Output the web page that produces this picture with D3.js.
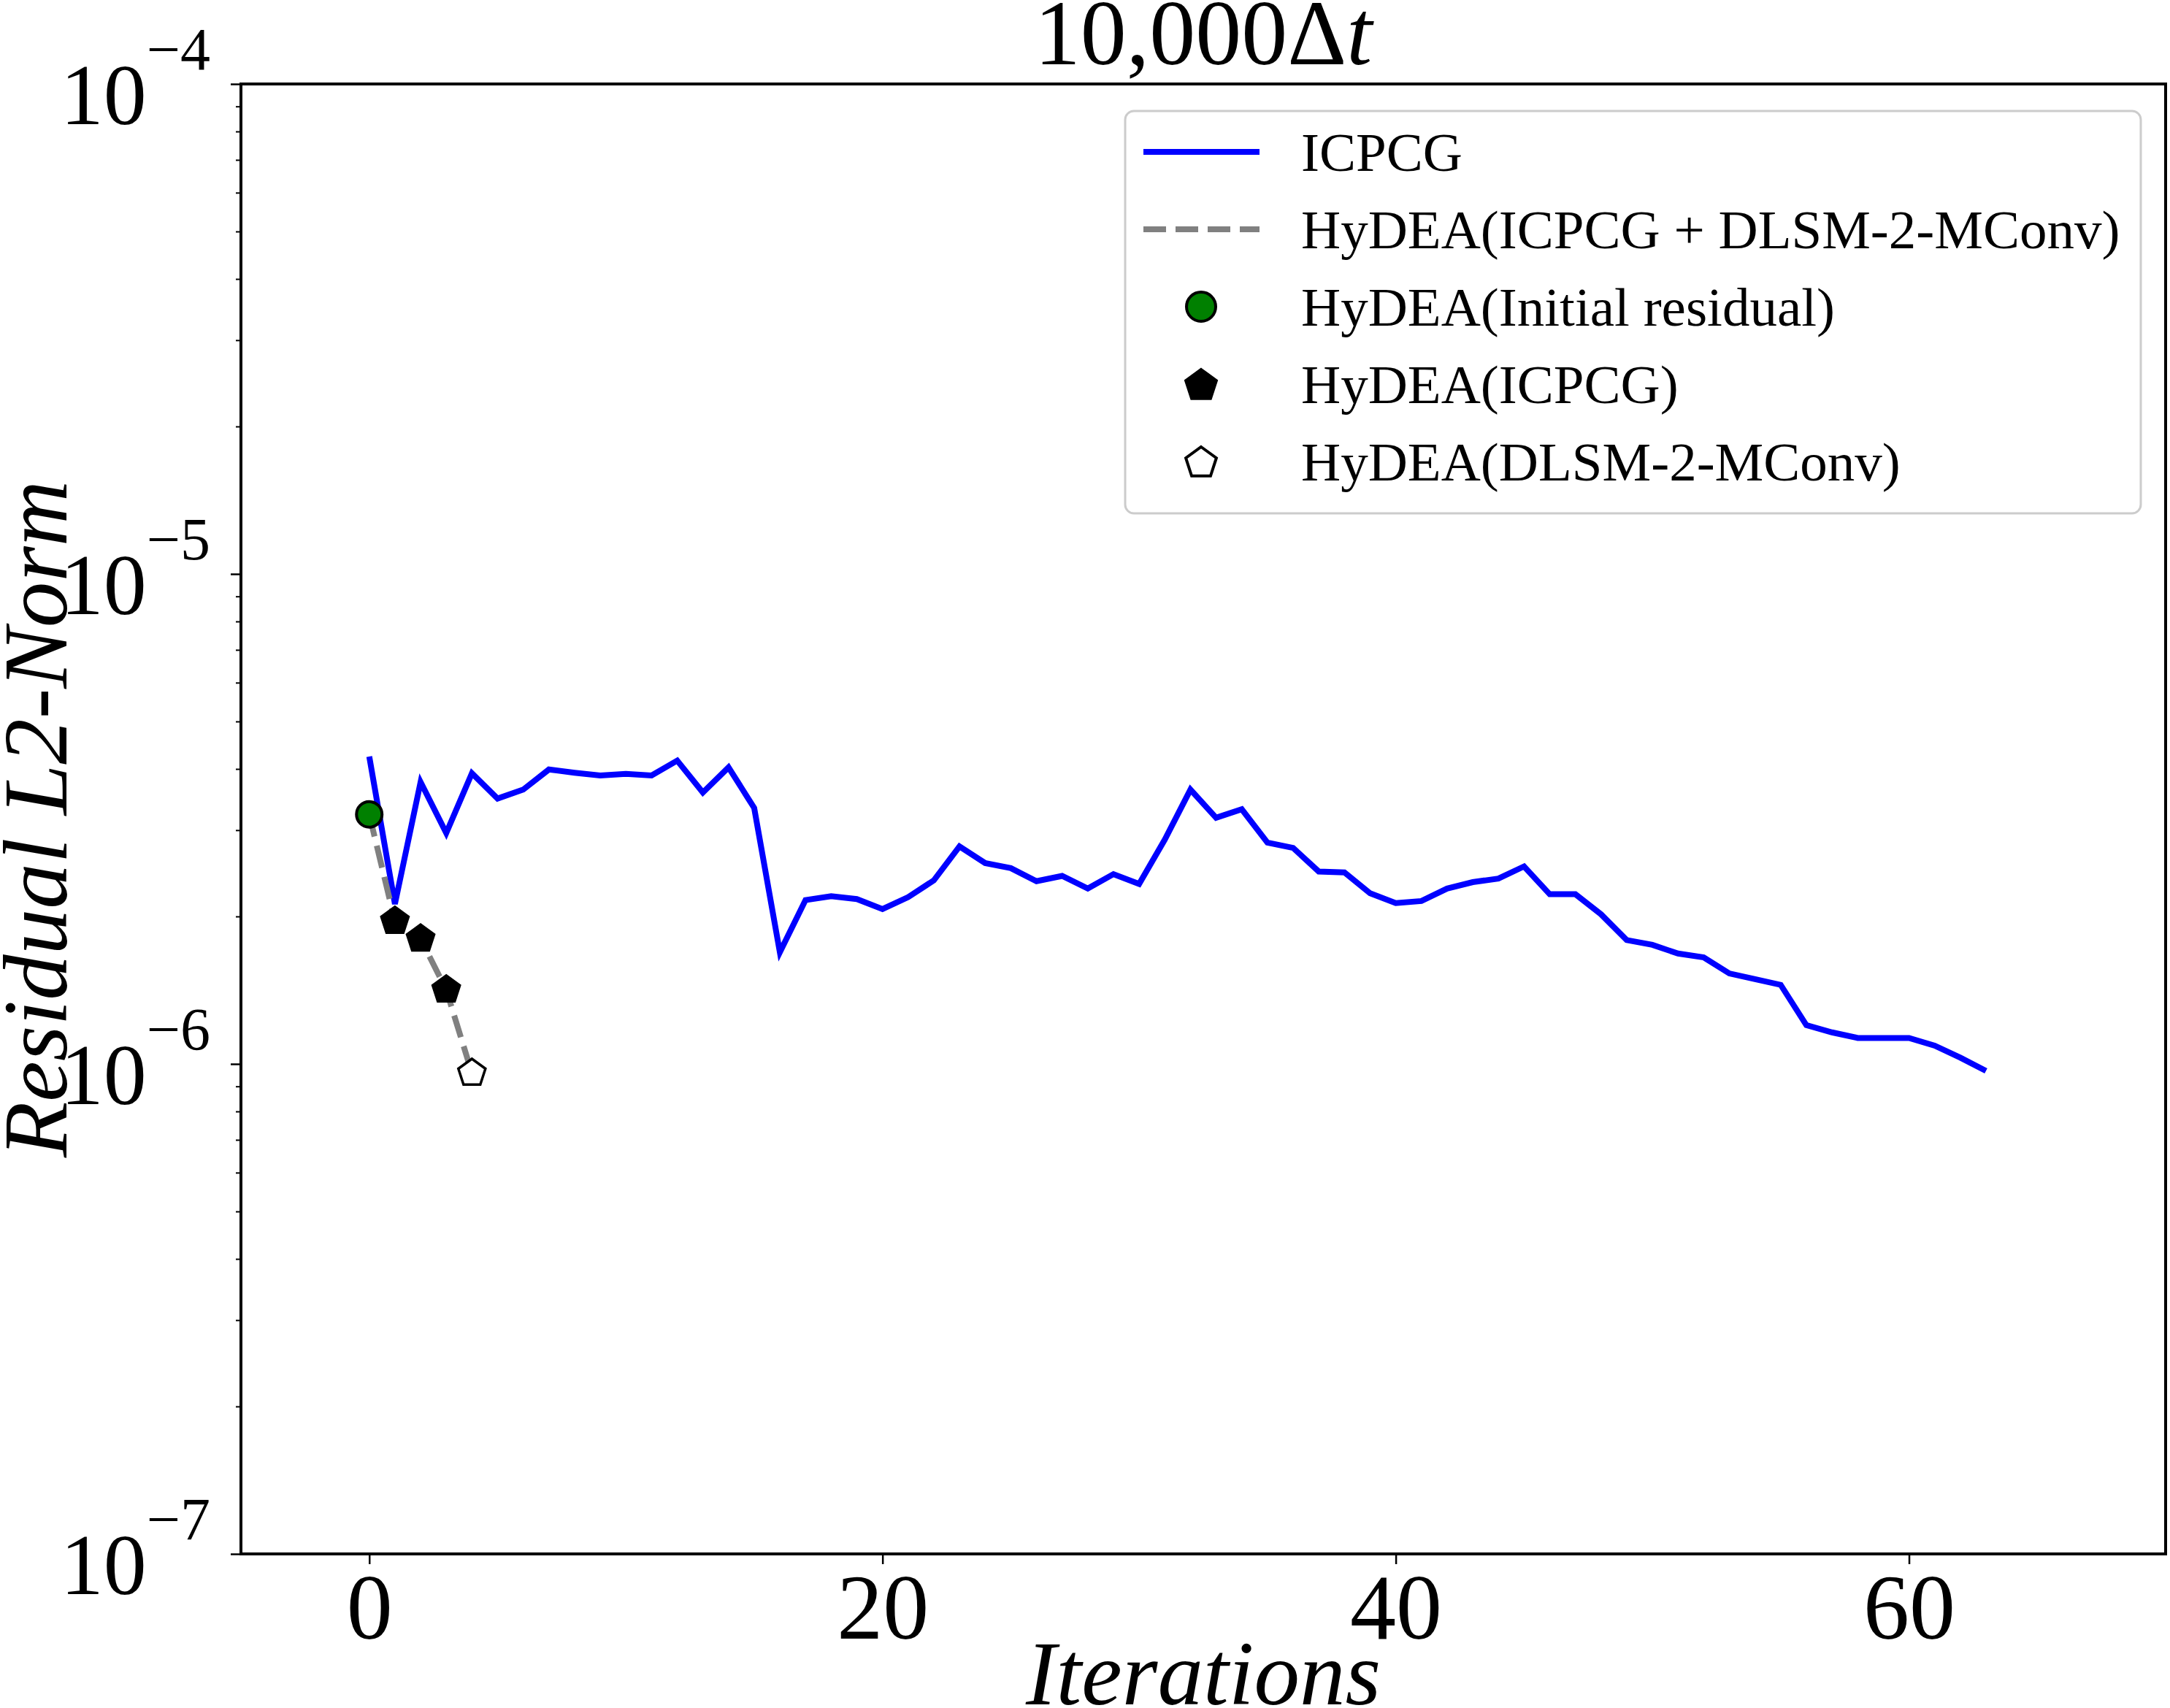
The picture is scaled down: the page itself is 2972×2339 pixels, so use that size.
<!DOCTYPE html>
<html>
<head>
<meta charset="utf-8">
<script src="https://cdn.jsdelivr.net/npm/d3@7"></script>
<style>
  body { margin: 0; background: #fff; }
  svg { display: block; }
  text { font-family: 'Liberation Serif', 'Times New Roman', serif; fill: #000; }
</style>
</head>
<body>
<svg width="2972" height="2339"></svg>
<script>
// residual history
const icpcgResidual = [
  4.24e-6, 2.12e-6, 3.76e-6, 2.96e-6, 3.92e-6, 3.48e-6, 3.63e-6, 3.99e-6, 3.93e-6, 3.88e-6,
  3.91e-6, 3.88e-6, 4.16e-6, 3.58e-6, 4.03e-6, 3.33e-6, 1.69e-6, 2.16e-6, 2.20e-6, 2.17e-6,
  2.07e-6, 2.19e-6, 2.37e-6, 2.78e-6, 2.57e-6, 2.51e-6, 2.36e-6, 2.42e-6, 2.28e-6, 2.44e-6,
  2.33e-6, 2.87e-6, 3.63e-6, 3.18e-6, 3.31e-6, 2.83e-6, 2.76e-6, 2.47e-6, 2.46e-6, 2.23e-6,
  2.13e-6, 2.15e-6, 2.28e-6, 2.35e-6, 2.39e-6, 2.53e-6, 2.22e-6, 2.22e-6, 2.02e-6, 1.79e-6,
  1.75e-6, 1.68e-6, 1.65e-6, 1.53e-6, 1.49e-6, 1.45e-6, 1.20e-6, 1.16e-6, 1.13e-6, 1.13e-6,
  1.13e-6, 1.09e-6, 1.03e-6, 0.968e-6,
];

const hydeaIter = [0, 1, 2, 3, 4];
const hydeaResidual = [3.23e-6, 1.956e-6, 1.80e-6, 1.417e-6, 0.958e-6];
const hydeaKind = ['initial', 'icpcg', 'icpcg', 'icpcg', 'dlsm'];

const xTicks = [0, 20, 40, 60];
const yMajorExp = [-7, -6, -5, -4];

const legendLabels = [
  'ICPCG',
  'HyDEA(ICPCG + DLSM-2-MConv)',
  'HyDEA(Initial residual)',
  'HyDEA(ICPCG)',
  'HyDEA(DLSM-2-MConv)',
];

const svg = d3.select('svg');
const plotLeft = 330, plotRight = 2966, plotTop = 115, plotBottom = 2128;

const x = d3.scaleLinear().domain([-5, 70]).range([plotLeft, plotRight]);
const y = d3.scaleLog().domain([1e-7, 1e-4]).range([plotBottom, plotTop]);

// pentagon marker path, centred on 0,0
const pentagon = (r) => {
  const pts = d3.range(5).map((k) => {
    const a = (-90 + k * 72) * Math.PI / 180;
    return [r * Math.cos(a), r * Math.sin(a)];
  });
  return 'M' + pts.map((p) => p.join(',')).join('L') + 'Z';
};

// x axis
const xAxis = svg.append('g')
  .attr('transform', `translate(0,${plotBottom})`)
  .call(d3.axisBottom(x).tickValues(xTicks).tickSize(14).tickSizeOuter(0).tickPadding(0));
xAxis.select('.domain').remove();
xAxis.selectAll('line').attr('stroke', '#000').attr('stroke-width', 2.5);
xAxis.selectAll('text')
  .attr('y', 116)
  .attr('dy', null)
  .attr('fill', '#000')
  .style('font-size', '126px')
  .style('font-family', "'Liberation Serif', serif");

// y axis: minor ticks
const minorVals = [];
[-7, -6, -5].forEach((e) => {
  [2, 3, 4, 5, 6, 7, 8, 9].forEach((m) => minorVals.push(m * Math.pow(10, e)));
});
const yMinor = svg.append('g')
  .attr('transform', `translate(${plotLeft},0)`)
  .call(d3.axisLeft(y).tickValues(minorVals).tickSize(7).tickSizeOuter(0).tickFormat(''));
yMinor.select('.domain').remove();
yMinor.selectAll('line').attr('stroke', '#000').attr('stroke-width', 2);

// y axis: major ticks with 10^n labels
const yMajor = svg.append('g')
  .attr('transform', `translate(${plotLeft},0)`)
  .call(d3.axisLeft(y).tickValues(yMajorExp.map((e) => Math.pow(10, e)))
    .tickSize(14).tickSizeOuter(0).tickFormat(''));
yMajor.select('.domain').remove();
yMajor.selectAll('line').attr('stroke', '#000').attr('stroke-width', 2.5);
yMajor.selectAll('.tick').each(function (d) {
  const e = Math.round(Math.log10(d));
  const t = d3.select(this).append('text')
    .attr('x', -42)
    .attr('y', 54)
    .attr('text-anchor', 'end')
    .attr('fill', '#000')
    .style('font-family', "'Liberation Serif', serif");
  t.append('tspan').style('font-size', '118px').text('10');
  t.append('tspan').attr('dy', -75).style('font-size', '82px').text('\u2212' + Math.abs(e));
});

// frame
svg.append('rect')
  .attr('x', plotLeft).attr('y', plotTop)
  .attr('width', plotRight - plotLeft).attr('height', plotBottom - plotTop)
  .attr('fill', 'none').attr('stroke', '#000').attr('stroke-width', 4);

// ICPCG line
svg.append('path')
  .datum(icpcgResidual)
  .attr('fill', 'none')
  .attr('stroke', '#0000ff')
  .attr('stroke-width', 8)
  .attr('stroke-linejoin', 'miter')
  .attr('d', d3.line().x((d, i) => x(i)).y((d) => y(d)));

// HyDEA dashed path
const hydea = hydeaIter.map((it, i) => ({it, v: hydeaResidual[i], kind: hydeaKind[i]}));
svg.append('path')
  .datum(hydea)
  .attr('fill', 'none')
  .attr('stroke', '#808080')
  .attr('stroke-width', 8)
  .attr('stroke-dasharray', '31,13')
  .attr('d', d3.line().x((d) => x(d.it)).y((d) => y(d.v)));

// HyDEA markers
const markerG = svg.append('g');
hydea.forEach((d) => {
  if (d.kind === 'initial') {
    markerG.append('circle')
      .attr('cx', x(d.it)).attr('cy', y(d.v)).attr('r', 17.5)
      .attr('fill', '#008000').attr('stroke', '#000').attr('stroke-width', 4);
  } else {
    markerG.append('path')
      .attr('transform', `translate(${x(d.it)},${y(d.v)})`)
      .attr('d', pentagon(19.5))
      .attr('fill', d.kind === 'icpcg' ? '#000' : '#fff')
      .attr('stroke', '#000').attr('stroke-width', 3.5)
      .attr('stroke-linejoin', 'miter');
  }
});

// title and axis labels
const title = svg.append('text')
  .attr('x', (plotLeft + plotRight) / 2).attr('y', 88)
  .attr('text-anchor', 'middle')
  .style('font-size', '126px');
title.append('tspan').text('10,000\u0394');
title.append('tspan').style('font-style', 'italic').text('t');

svg.append('text')
  .attr('x', (plotLeft + plotRight) / 2).attr('y', 2334)
  .attr('text-anchor', 'middle')
  .style('font-size', '125px').style('font-style', 'italic')
  .text('Iterations');

svg.append('text')
  .attr('transform', `translate(91,${(plotTop + plotBottom) / 2}) rotate(-90)`)
  .attr('text-anchor', 'middle')
  .style('font-size', '125px').style('font-style', 'italic')
  .text('Residual L2-Norm');

// legend
const lg = svg.append('g');
lg.append('rect')
  .attr('x', 1541).attr('y', 152).attr('width', 1391).attr('height', 551).attr('rx', 12)
  .attr('fill', '#fff').attr('fill-opacity', 0.8)
  .attr('stroke', '#cccccc').attr('stroke-width', 3);

const rowY = (i) => 208 + i * 106;
legendLabels.forEach((label, i) => {
  const cy = rowY(i);
  if (i === 0) {
    lg.append('line').attr('x1', 1566).attr('x2', 1725).attr('y1', cy).attr('y2', cy)
      .attr('stroke', '#0000ff').attr('stroke-width', 8);
  } else if (i === 1) {
    lg.append('line').attr('x1', 1566).attr('x2', 1725).attr('y1', cy).attr('y2', cy)
      .attr('stroke', '#808080').attr('stroke-width', 8).attr('stroke-dasharray', '31,13');
  } else if (i === 2) {
    lg.append('circle').attr('cx', 1645).attr('cy', cy).attr('r', 20)
      .attr('fill', '#008000').attr('stroke', '#000').attr('stroke-width', 4);
  } else {
    lg.append('path')
      .attr('transform', `translate(1645,${cy + 2})`)
      .attr('d', pentagon(22))
      .attr('fill', i === 3 ? '#000' : '#fff')
      .attr('stroke', '#000').attr('stroke-width', 4);
  }
  lg.append('text')
    .attr('x', 1782).attr('y', cy + 26)
    .style('font-size', '75px')
    .text(label);
});
</script>
</body>
</html>
